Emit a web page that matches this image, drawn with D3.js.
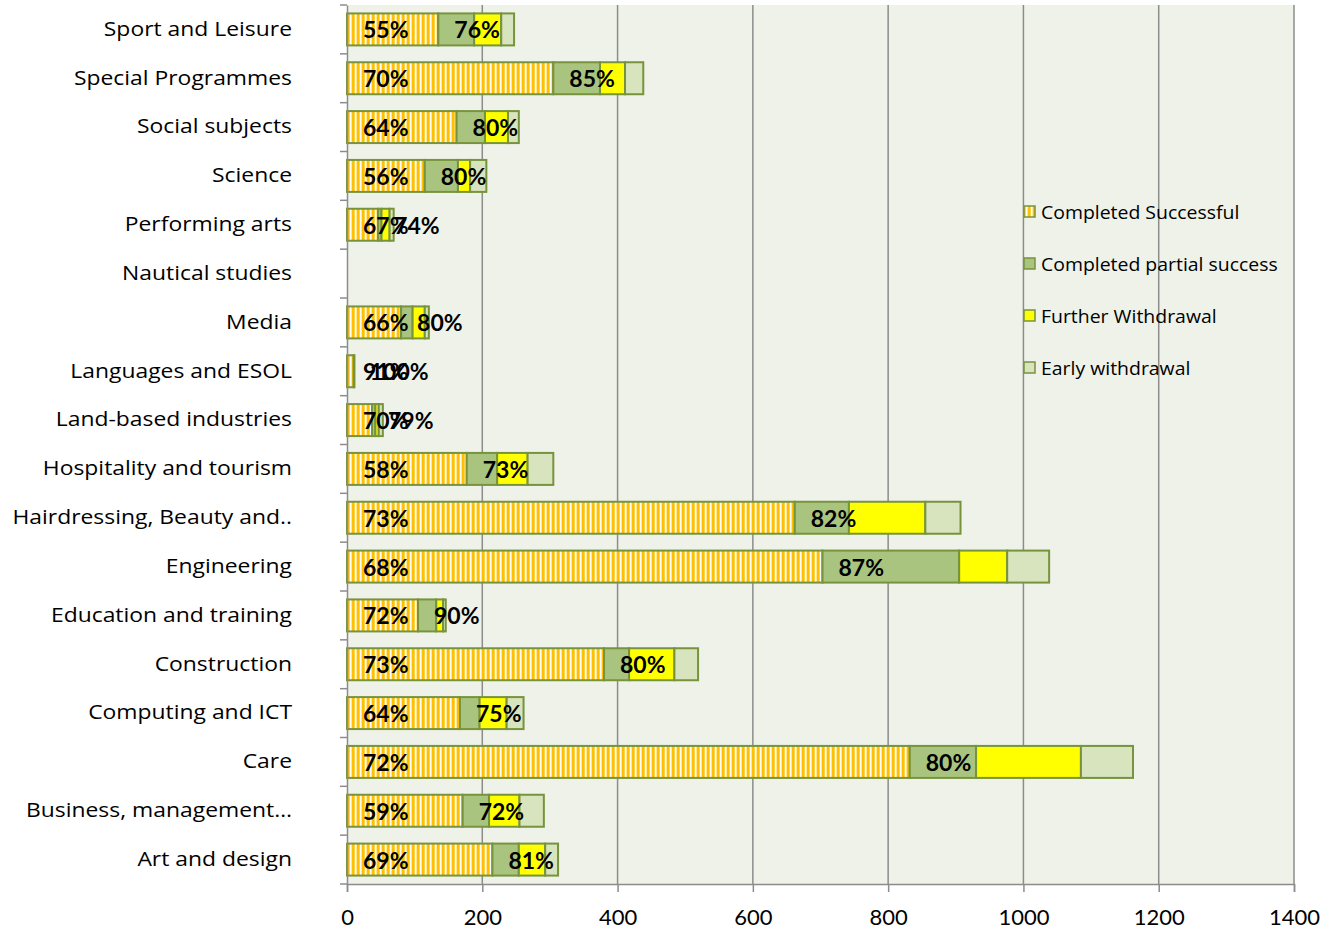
<!DOCTYPE html>
<html>
<head>
<meta charset="utf-8">
<script src="https://cdn.jsdelivr.net/npm/d3@7"></script>
<style>
  html, body { margin: 0; padding: 0; background: #ffffff; }
  svg { display: block; }
  text { font-family: Lato, "Open Sans", sans-serif; }
</style>
</head>
<body>
<svg id="chart" width="1337" height="933"></svg>
<script>
// ---- data ----
const categories = [
  "Sport and Leisure", "Special Programmes", "Social subjects", "Science",
  "Performing arts", "Nautical studies", "Media", "Languages and ESOL",
  "Land-based industries", "Hospitality and tourism", "Hairdressing, Beauty and..",
  "Engineering", "Education and training", "Construction", "Computing and ICT",
  "Care", "Business, management\u2026", "Art and design"
];
const completedSuccessful = [135, 305, 162, 115, 46, 0, 80, 10, 37, 177, 662, 703, 105, 380, 167, 832, 171, 215];
const completedPartial    = [53, 69, 42, 49, 5, 0, 17, 1, 5, 45, 80, 202, 27, 37, 29, 98, 39, 39];
const furtherWithdrawal   = [40, 37, 34, 18, 12, 0, 18, 0, 5, 45, 113, 71, 10, 67, 40, 155, 45, 39];
const earlyWithdrawal     = [19, 27, 16, 24, 6, 0, 6, 0, 6, 38, 52, 62, 4, 35, 25, 77, 36, 19];
const successLabels   = ["55%", "70%", "64%", "56%", "67%", "", "66%", "91%", "70%", "58%", "73%", "68%", "72%", "73%", "64%", "72%", "59%", "69%"];
const completedLabels = ["76%", "85%", "80%", "80%", "74%", "", "80%", "100%", "79%", "73%", "82%", "87%", "90%", "80%", "75%", "80%", "72%", "81%"];
const seriesNames = ["Completed Successful", "Completed partial success", "Further Withdrawal", "Early withdrawal"];
const xTicks = [0, 200, 400, 600, 800, 1000, 1200, 1400];

// ---- layout ----
const svg = d3.select("#chart");
const margin = { left: 347, right: 43, top: 5, bottom: 49 };
const W = 1337, H = 933;
const plotW = W - margin.left - margin.right;
const plotH = H - margin.top - margin.bottom;

const defs = svg.append("defs");
const pat = defs.append("pattern")
  .attr("id", "stripes").attr("patternUnits", "userSpaceOnUse")
  .attr("width", 5).attr("height", 10);
pat.append("rect").attr("width", 5).attr("height", 10).attr("fill", "#FFD24A");
pat.append("rect").attr("x", 0).attr("width", 2).attr("height", 10).attr("fill", "#FFC000");
pat.append("rect").attr("x", 3).attr("width", 1).attr("height", 10).attr("fill", "#FFFFFF");
pat.append("rect").attr("x", 4).attr("width", 1).attr("height", 10).attr("fill", "#FFE699");

const fills = ["url(#stripes)", "#A9C47F", "#FFFF00", "#D7E4BD"];
const stroke = "#77933C";

const g = svg.append("g").attr("transform", `translate(${margin.left},${margin.top})`);

const x = d3.scaleLinear().domain([0, 1400]).range([0, plotW]);
const y = d3.scaleBand().domain(categories).range([0, plotH]).paddingInner(0.345).paddingOuter(0.1725);

// plot background
g.append("rect").attr("x", 0).attr("y", 0).attr("width", plotW).attr("height", plotH).attr("fill", "#EFF2E9");

// gridlines
g.append("g").selectAll("line").data(xTicks.filter(d => d > 0)).join("line")
  .attr("x1", d => x(d)).attr("x2", d => x(d))
  .attr("y1", 0).attr("y2", plotH)
  .attr("stroke", "#8C8C8C").attr("stroke-width", 1.5);

// stacked data
const table = categories.map((c, i) => ({
  cat: c,
  s0: completedSuccessful[i], s1: completedPartial[i], s2: furtherWithdrawal[i], s3: earlyWithdrawal[i],
  l0: successLabels[i], l1: completedLabels[i]
}));
const stack = d3.stack().keys(["s0", "s1", "s2", "s3"]);
const layers = stack(table);

g.append("g").selectAll("g").data(layers).join("g")
  .attr("fill", (d, i) => fills[i])
  .selectAll("rect").data(d => d.filter(p => p[1] - p[0] > 0)).join("rect")
  .attr("x", d => x(d[0]))
  .attr("width", d => x(d[1]) - x(d[0]))
  .attr("y", d => y(d.data.cat))
  .attr("height", y.bandwidth())
  .attr("stroke", stroke).attr("stroke-width", 2);

// axes
const catScale = 1.145;
const yAxis = g.append("g").call(d3.axisLeft(y).tickSize(0).tickPadding(0).tickFormat(d => d));
yAxis.select(".domain").attr("stroke", "#8C8C8C").attr("stroke-width", 1.5);
yAxis.selectAll("text").attr("font-size", 20).attr("fill", "#000")
  .attr("x", -55 / catScale).attr("dx", 0)
  .attr("transform", `scale(${catScale},1)`)
  .style("font-family", "'Open Sans', sans-serif");

// category boundary ticks on y axis
const boundaries = d3.range(categories.length + 1).map(i => i * plotH / categories.length);
g.append("g").selectAll("line").data(boundaries).join("line")
  .attr("x1", -7).attr("x2", 0).attr("y1", d => d).attr("y2", d => d)
  .attr("stroke", "#8C8C8C").attr("stroke-width", 1.5);

const xAxis = g.append("g").attr("transform", `translate(0,${plotH})`)
  .call(d3.axisBottom(x).tickValues(xTicks).tickSize(8).tickPadding(17).tickFormat(d3.format("d")));
xAxis.select(".domain").attr("stroke", "#8C8C8C").attr("stroke-width", 1.5);
xAxis.selectAll(".tick line").attr("stroke", "#8C8C8C").attr("stroke-width", 1.5);
xAxis.selectAll("text").attr("font-size", 22).attr("fill", "#000");

// data labels
const lbl = g.append("g").attr("font-weight", "bold").attr("font-size", 23).attr("fill", "#000");
lbl.selectAll("text.l0").data(table.filter(d => d.l0)).join("text").attr("class", "l0")
  .attr("x", d => x(0) + 16)
  .attr("y", d => y(d.cat) + y.bandwidth() / 2)
  .attr("dominant-baseline", "central")
  .text(d => d.l0);
lbl.selectAll("text.l1").data(table.filter(d => d.l1)).join("text").attr("class", "l1")
  .attr("x", d => x(d.s0) + 16)
  .attr("y", d => y(d.cat) + y.bandwidth() / 2)
  .attr("dominant-baseline", "central")
  .text(d => d.l1);

// legend
const legScale = 1.08;
const legend = svg.append("g").attr("transform", "translate(1023,212)");
const li = legend.selectAll("g").data(seriesNames).join("g")
  .attr("transform", (d, i) => `translate(0,${i * 52})`);
li.append("rect").attr("x", 1).attr("y", -6).attr("width", 11).attr("height", 11)
  .attr("fill", (d, i) => fills[i]).attr("stroke", stroke).attr("stroke-width", 1.5);
li.append("text").attr("x", 18 / legScale).attr("y", 0).attr("dominant-baseline", "central")
  .attr("transform", `scale(${legScale},1)`)
  .attr("font-size", 18).attr("fill", "#000").style("font-family", "'Open Sans', sans-serif").text(d => d);
</script>
</body>
</html>
